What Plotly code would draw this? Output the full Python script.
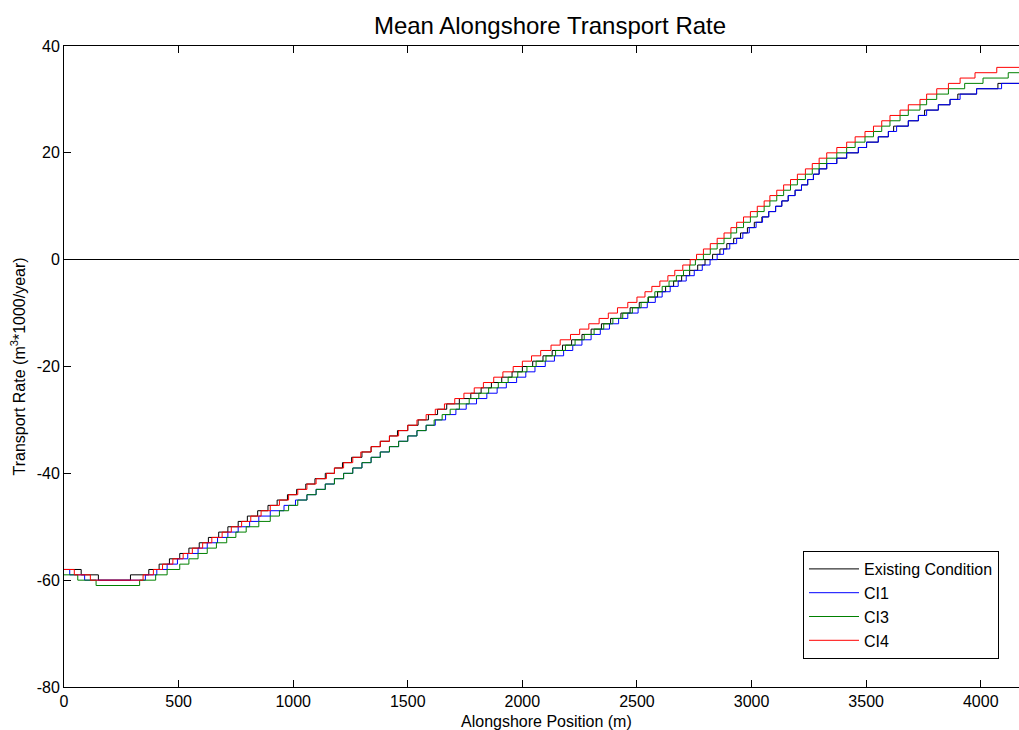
import plotly.graph_objects as go

# Mean alongshore transport rate, stored as stepped series:
# *_x = alongshore position (m) where the rate moves to the level in *_y (m^3*1000/year)

existing_x = [0, 75, 150, 290, 370, 415, 460, 505, 545, 590,
              630, 675, 715, 760, 800, 845, 890, 930, 975, 1015,
              1055, 1095, 1140, 1180, 1215, 1255, 1300, 1340, 1380, 1420,
              1455, 1500, 1545, 1590, 1630, 1670, 1725, 1775, 1820, 1865,
              1910, 1955, 2000, 2045, 2090, 2130, 2175, 2215, 2260, 2300,
              2345, 2385, 2430, 2470, 2510, 2550, 2590, 2625, 2660, 2695,
              2730, 2765, 2797, 2830, 2862, 2892, 2922, 2952, 2982, 3012,
              3045, 3075, 3105, 3132, 3160, 3190, 3218, 3245, 3270, 3295,
              3328, 3372, 3415, 3466, 3502, 3553, 3597, 3620, 3684, 3728,
              3755, 3815, 3866, 3900, 3982, 4075, 4180]
existing_y = [-58, -59, -60, -59, -58, -57, -56, -55, -54, -53,
              -52, -51, -50, -49, -48, -47, -46, -45, -44, -43,
              -42, -41, -40, -39, -38, -37, -36, -35, -34, -33,
              -32, -31, -30, -29, -28, -27, -26, -25, -24, -23,
              -22, -21, -20, -19, -18, -17, -16, -15, -14, -13,
              -12, -11, -10, -9, -8, -7, -6, -5, -4, -3,
              -2, -1, 0, 1, 2, 3, 4, 5, 6, 7,
              8, 9, 10, 11, 12, 13, 14, 15, 16, 17,
              18, 19, 20, 21, 22, 23, 24, 25, 26, 27,
              28, 29, 30, 31, 32, 33, 33]

ci1_x = [0, 25, 90, 355, 405, 450, 495, 540, 585, 625,
         670, 715, 760, 810, 850, 900, 960, 1010, 1060, 1100,
         1140, 1180, 1220, 1260, 1300, 1340, 1380, 1420, 1460, 1500,
         1540, 1580, 1620, 1665, 1710, 1755, 1800, 1845, 1890, 1930,
         1975, 2015, 2055, 2100, 2140, 2180, 2220, 2260, 2300, 2340,
         2380, 2420, 2460, 2505, 2545, 2580, 2610, 2645, 2680, 2715,
         2750, 2785, 2819, 2850, 2878, 2905, 2935, 2962, 2990, 3020,
         3048, 3075, 3105, 3132, 3160, 3190, 3218, 3245, 3270, 3295,
         3328, 3372, 3415, 3466, 3502, 3553, 3597, 3633, 3684, 3728,
         3764, 3815, 3866, 3910, 3982, 4091, 4180]
ci1_y = [-58, -59, -60, -59, -58, -57, -56, -55, -54, -53,
         -52, -51, -50, -49, -48, -47, -46, -45, -44, -43,
         -42, -41, -40, -39, -38, -37, -36, -35, -34, -33,
         -32, -31, -30, -29, -28, -27, -26, -25, -24, -23,
         -22, -21, -20, -19, -18, -17, -16, -15, -14, -13,
         -12, -11, -10, -9, -8, -7, -6, -5, -4, -3,
         -2, -1, 0, 1, 2, 3, 4, 5, 6, 7,
         8, 9, 10, 11, 12, 13, 14, 15, 16, 17,
         18, 19, 20, 21, 22, 23, 24, 25, 26, 27,
         28, 29, 30, 31, 32, 33, 33]

ci3_x = [0, 60, 140, 330, 400, 450, 505, 545, 585, 625,
         665, 710, 750, 795, 850, 900, 940, 980, 1020, 1060,
         1100, 1140, 1180, 1220, 1260, 1300, 1340, 1380, 1420, 1460,
         1500, 1540, 1580, 1615, 1650, 1685, 1725, 1768, 1810, 1853,
         1895, 1938, 1980, 2020, 2060, 2103, 2145, 2188, 2230, 2270,
         2313, 2355, 2395, 2438, 2480, 2518, 2548, 2578, 2610, 2640,
         2672, 2703, 2730, 2755, 2790, 2820, 2850, 2880, 2910, 2935,
         2965, 2995, 3025, 3055, 3080, 3110, 3140, 3170, 3200, 3235,
         3265, 3295, 3328, 3372, 3415, 3452, 3495, 3532, 3568, 3604,
         3648, 3684, 3735, 3764, 3808, 3859, 3930, 4010, 4120, 4180]
ci3_y = [-59, -60, -61, -60, -59, -58, -57, -56, -55, -54,
         -53, -52, -51, -50, -49, -48, -47, -46, -45, -44,
         -43, -42, -41, -40, -39, -38, -37, -36, -35, -34,
         -33, -32, -31, -30, -29, -28, -27, -26, -25, -24,
         -23, -22, -21, -20, -19, -18, -17, -16, -15, -14,
         -13, -12, -11, -10, -9, -8, -7, -6, -5, -4,
         -3, -2, -1, 0, 1, 2, 3, 4, 5, 6,
         7, 8, 9, 10, 11, 12, 13, 14, 15, 16,
         17, 18, 19, 20, 21, 22, 23, 24, 25, 26,
         27, 28, 29, 30, 31, 32, 33, 34, 35, 35]

ci4_x = [0, 45, 115, 345, 390, 430, 475, 520, 560, 605,
         645, 690, 730, 775, 815, 860, 900, 940, 980, 1020,
         1060, 1100, 1145, 1180, 1220, 1260, 1295, 1340, 1380, 1420,
         1460, 1500, 1540, 1580, 1620, 1660, 1705, 1745, 1790, 1830,
         1875, 1915, 1960, 2000, 2040, 2080, 2125, 2165, 2210, 2250,
         2290, 2335, 2375, 2415, 2460, 2500, 2535, 2565, 2600, 2635,
         2665, 2700, 2732, 2760, 2790, 2820, 2850, 2880, 2910, 2935,
         2965, 2995, 3025, 3055, 3080, 3110, 3140, 3170, 3200, 3235,
         3265, 3295, 3328, 3372, 3415, 3452, 3495, 3532, 3568, 3604,
         3648, 3684, 3735, 3764, 3808, 3859, 3910, 3975, 4070, 4180]
ci4_y = [-58, -59, -60, -59, -58, -57, -56, -55, -54, -53,
         -52, -51, -50, -49, -48, -47, -46, -45, -44, -43,
         -42, -41, -40, -39, -38, -37, -36, -35, -34, -33,
         -32, -31, -30, -29, -28, -27, -26, -25, -24, -23,
         -22, -21, -20, -19, -18, -17, -16, -15, -14, -13,
         -12, -11, -10, -9, -8, -7, -6, -5, -4, -3,
         -2, -1, 0, 1, 2, 3, 4, 5, 6, 7,
         8, 9, 10, 11, 12, 13, 14, 15, 16, 17,
         18, 19, 20, 21, 22, 23, 24, 25, 26, 27,
         28, 29, 30, 31, 32, 33, 34, 35, 36, 36]

# Axis tick positions and their printed labels (plain hyphen for negatives)
x_ticks = [0, 500, 1000, 1500, 2000, 2500, 3000, 3500, 4000]
x_tick_text = ["0", "500", "1000", "1500", "2000", "2500", "3000", "3500", "4000"]
y_ticks = [-80, -60, -40, -20, 0, 20, 40]
y_tick_text = ["-80", "-60", "-40", "-20", "0", "20", "40"]

series = [
    ("Existing Condition", existing_x, existing_y, "#000000"),
    ("CI1", ci1_x, ci1_y, "#0000FF"),
    ("CI3", ci3_x, ci3_y, "#008000"),
    ("CI4", ci4_x, ci4_y, "#FF0000"),
]

for name, xs, ys, _ in series:
    assert len(xs) == len(ys), (name, len(xs), len(ys))

FONT = "Liberation Sans, Arial, Helvetica, sans-serif"

fig = go.Figure()
for name, xs, ys, color in series:
    fig.add_trace(go.Scatter(
        x=xs, y=ys, name=name, mode="lines",
        line=dict(color=color, width=1, shape="hv"),
    ))

fig.update_layout(
    width=1019, height=730,
    margin=dict(l=64, r=0, t=46, b=43),
    paper_bgcolor="white", plot_bgcolor="white",
    font=dict(family=FONT, size=16, color="black"),
    title=dict(
        text="Mean Alongshore Transport Rate",
        font=dict(family=FONT, size=24, color="black"),
        x=550 / 1019, xref="container", xanchor="center",
        y=1 - 26 / 730, yref="container", yanchor="middle",
    ),
    showlegend=True,
    legend=dict(
        x=(803 - 64) / 955, xanchor="left",
        y=(687 - 551) / 641, yanchor="top",
        bgcolor="white", bordercolor="black", borderwidth=1,
        font=dict(family=FONT, size=16, color="black"),
        itemwidth=50, tracegroupgap=0,
    ),
    annotations=[
        dict(text="Alongshore Position (m)", xref="paper", yref="paper",
             x=(546 - 64) / 955, y=0, yshift=-34, xanchor="center", yanchor="middle",
             showarrow=False, font=dict(family=FONT, size=16, color="black")),
        dict(text="Transport Rate (m<sup>3</sup>*1000/year)", xref="paper", yref="paper",
             x=0, xshift=-46, y=0.5, xanchor="center", yanchor="middle", textangle=-90,
             showarrow=False, font=dict(family=FONT, size=16, color="black")),
    ],
)

fig.update_xaxes(
    range=[0, 4167], tickmode="array", tickvals=x_ticks, ticktext=x_tick_text,
    showgrid=False, zeroline=False,
    showline=True, linecolor="black", linewidth=1, mirror="ticks",
    ticks="inside", ticklen=7, tickcolor="black", tickwidth=1,
    tickfont=dict(family=FONT, size=16, color="black"),
)
fig.update_yaxes(
    range=[-80, 40], tickmode="array", tickvals=y_ticks, ticktext=y_tick_text,
    showgrid=False,
    zeroline=True, zerolinecolor="black", zerolinewidth=1,
    showline=True, linecolor="black", linewidth=1, mirror=False,
    ticks="inside", ticklen=7, tickcolor="black", tickwidth=1,
    tickfont=dict(family=FONT, size=16, color="black"),
)

fig.write_html("out.html")
